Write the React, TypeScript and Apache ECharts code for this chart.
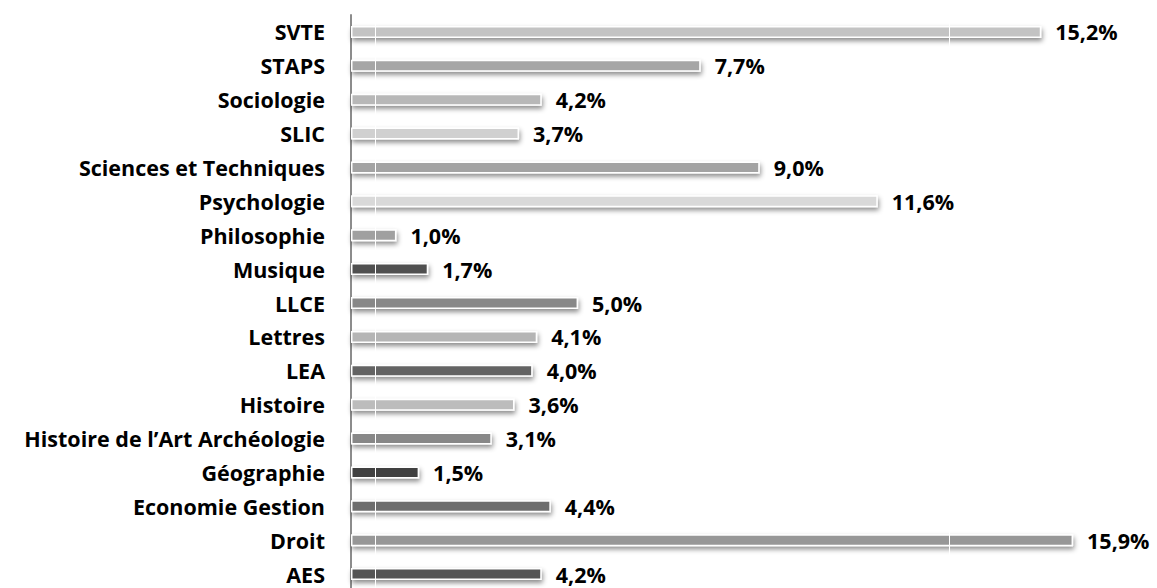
import React, { useEffect, useRef } from "react";
import * as echarts from "echarts";

const categories = [
  "SVTE",
  "STAPS",
  "Sociologie",
  "SLIC",
  "Sciences et Techniques",
  "Psychologie",
  "Philosophie",
  "Musique",
  "LLCE",
  "Lettres",
  "LEA",
  "Histoire",
  "Histoire de l\u2019Art Archéologie",
  "Géographie",
  "Economie Gestion",
  "Droit",
  "AES",
];

const values = [15.2, 7.7, 4.2, 3.7, 9.0, 11.6, 1.0, 1.7, 5.0, 4.1, 4.0, 3.6, 3.1, 1.5, 4.4, 15.9, 4.2];

const barColors = [
  "#c3c3c3", "#a6a6a6", "#b8b8b8", "#d0d0d0", "#a3a3a3", "#d9d9d9", "#a0a0a0", "#505050",
  "#888888", "#b5b5b5", "#636363", "#bcbcbc", "#878787", "#404040", "#6e6e6e", "#979797", "#545454",
];

const gridLineValues = [0.54, 13.18];

const FONT = "'Open Sans', 'Noto Sans', sans-serif";

export default function App() {
  const ref = useRef<HTMLDivElement>(null);

  useEffect(() => {
    if (!ref.current) return;
    const chart = echarts.init(ref.current, undefined, { renderer: "svg" });
    chart.setOption({
      animation: false,
      backgroundColor: "#ffffff",
      grid: { left: 351, right: 34, top: 15, height: 576, containLabel: false },
      xAxis: {
        type: "value",
        min: 0,
        max: 17,
        show: false,
        splitLine: { show: false },
      },
      yAxis: {
        type: "category",
        data: categories,
        inverse: true,
        axisLine: { show: true, lineStyle: { color: "#8c8c8c", width: 2 } },
        axisTick: { show: false },
        axisLabel: {
          margin: 26,
          color: "#000000",
          fontFamily: FONT,
          fontWeight: "bold",
          fontSize: 21.5,
          lineHeight: 20,
          align: "right",
        },
      },
      series: [
        {
          type: "bar",
          z: 2,
          data: values.map((v, i) => ({
            value: v,
            itemStyle: { color: barColors[i] },
          })),
          barWidth: 12,
          itemStyle: {
            borderColor: "#ffffff",
            borderWidth: 1.5,
            shadowColor: "rgba(0,0,0,0.45)",
            shadowBlur: 5,
            shadowOffsetY: 3,
            shadowOffsetX: 1,
          },
          label: { show: false },
          markLine: {
            silent: true,
            z: 3,
            symbol: ["none", "none"],
            label: { show: false },
            lineStyle: { color: "#ffffff", width: 1, type: "solid" },
            data: gridLineValues.map((v) => ({ xAxis: v })),
          },
        },
        {
          type: "bar",
          z: 5,
          barGap: "-100%",
          barWidth: 12,
          data: values,
          itemStyle: { color: "rgba(0,0,0,0)" },
          label: {
            show: true,
            position: "right",
            distance: 14,
            offset: [0, 0],
            color: "#000000",
            fontFamily: FONT,
            fontWeight: "bold",
            fontSize: 21.5,
            lineHeight: 18,
            backgroundColor: "#ffffff",
            formatter: (p: any) => p.value.toFixed(1).replace(".", ",") + "%",
          },
          silent: true,
        },
      ],
    });
    return () => chart.dispose();
  }, []);

  return (
    <div style={{ position: "fixed", left: 0, top: 0, width: 1157, height: 588, overflow: "hidden", background: "#fff" }}>
      <div ref={ref} style={{ width: 1157, height: 600 }} />
    </div>
  );
}
